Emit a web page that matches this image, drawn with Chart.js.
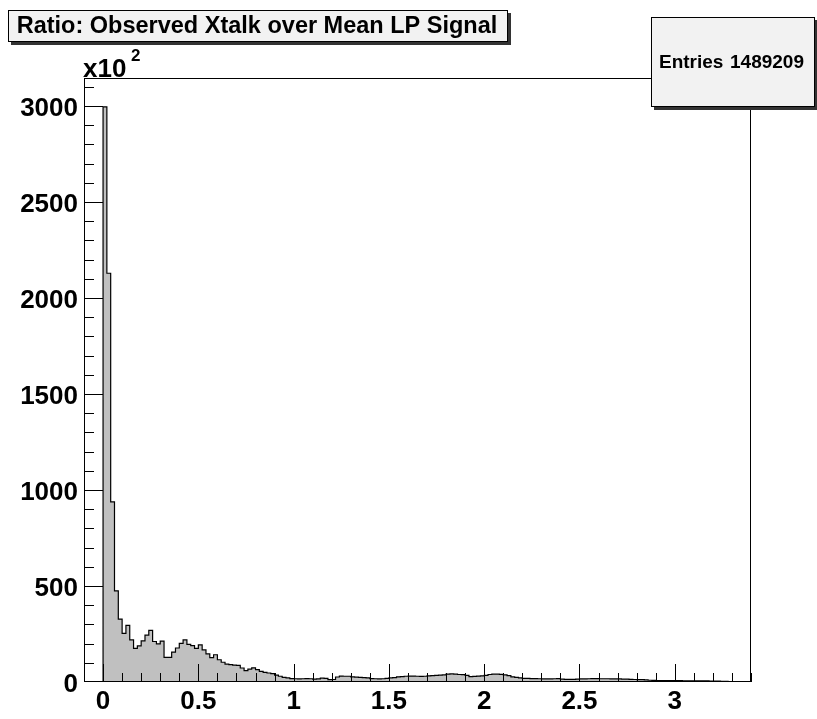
<!DOCTYPE html>
<html>
<head>
<meta charset="utf-8">
<script src="https://cdn.jsdelivr.net/npm/chart.js@4"></script>
<style>
  html, body { margin: 0; padding: 0; background: #fff; }
  #wrap { width: 817px; height: 719px; }
</style>
</head>
<body>
<div id="wrap"><canvas id="myChart" width="817" height="719"></canvas></div>
<script>
const titleText = 'Ratio: Observed Xtalk over Mean LP Signal';
const statsLabel = 'Entries';
const statsValue = '1489209';
const binLow = -0.1;
const binWidth = 0.02;
// bin contents, in units of 10^2 (one value per 0.02 bin, starting at -0.1)
const counts = [
    0, 0, 0, 0, 2,
    2996, 2129, 938, 475, 328, 253, 295, 219, 175, 188,
    214, 244, 269, 211, 199, 213, 128, 128, 156, 177,
    201, 219, 196, 189, 175, 193, 167, 146, 127, 142,
    116, 103, 93, 90, 88, 87, 73, 59, 67, 74,
    64, 55, 50, 47, 44, 36, 30, 24, 21, 18,
    17, 16, 17, 18, 17, 15, 16, 20, 19, 12,
    13, 26, 31, 30, 30, 27, 25, 24, 23, 22,
    18, 17, 16, 17, 19, 21, 23, 27, 28, 30,
    31, 31, 30, 29, 30, 32, 33, 35, 36, 37,
    41, 42, 41, 39, 38, 35, 28, 29, 31, 32,
    35, 39, 41, 41, 40, 37, 33, 27, 24, 21,
    19, 19, 18, 18, 17, 16, 16, 16, 17, 18,
    15, 14, 14, 14, 15, 16, 16, 17, 18, 18,
    17, 17, 17, 16, 16, 16, 15, 15, 14, 13,
    12, 12, 11, 9, 8, 7, 7, 7, 7, 7,
    7, 7, 6, 6, 6, 6, 6, 6, 6, 5,
    5, 5, 4, 3, 2, 1, 1, 0, 0, 0
];
const xTickLabels = ['0', '0.5', '1', '1.5', '2', '2.5', '3'];
const yTickLabels = ['0', '500', '1000', '1500', '2000', '2500', '3000'];
const yMax = 3146;

const FONT = "'Liberation Sans', Arial, Helvetica, sans-serif";
Chart.defaults.font.family = FONT;

// left bin edges, plus the closing upper edge
const points = counts.map((c, i) => ({ x: +(binLow + i * binWidth).toFixed(4), y: c }));
points.push({ x: +(binLow + counts.length * binWidth).toFixed(4), y: 0 });

const rootStyle = {
    id: 'rootStyle',
    afterDatasetsDraw(chart) {
        const ctx = chart.ctx;
        const ca = chart.chartArea;
        const xs = chart.scales.x;
        const ys = chart.scales.y;
        ctx.save();
        ctx.strokeStyle = '#000';
        ctx.lineWidth = 1;
        ctx.beginPath();
        ys.ticks.forEach(t => {
            if (t.value <= 0) return;
            const py = Math.round(ys.getPixelForValue(t.value)) + 0.5;
            const len = t.value % 500 === 0 ? 19 : 10;
            ctx.moveTo(ca.left, py);
            ctx.lineTo(ca.left + len, py);
        });
        xs.ticks.forEach(t => {
            if (t.value <= binLow + 1e-6) return;
            const px = Math.round(xs.getPixelForValue(t.value)) + 0.5;
            const major = Math.abs(t.value * 2 - Math.round(t.value * 2)) < 1e-6;
            const len = major ? 18 : 9;
            ctx.moveTo(px, ca.bottom);
            ctx.lineTo(px, ca.bottom - len);
        });
        ctx.stroke();
        ctx.strokeRect(Math.round(ca.left) + 0.5, Math.round(ca.top) + 0.5,
            Math.round(ca.right - ca.left) - 1, Math.round(ca.bottom - ca.top) - 1);
        ctx.restore();
    },
    afterDraw(chart) {
        const ctx = chart.ctx;
        ctx.save();
        const pave = (x, y, w, h) => {
            ctx.fillStyle = '#333';
            ctx.fillRect(x + 3, y + 3, w, h);
            ctx.fillStyle = '#f2f2f2';
            ctx.fillRect(x, y, w, h);
            ctx.strokeStyle = '#000';
            ctx.lineWidth = 1;
            ctx.strokeRect(x + 0.5, y + 0.5, w - 1, h - 1);
        };
        // title box
        pave(8, 10, 500, 32);
        ctx.fillStyle = '#000';
        ctx.font = 'bold 23.5px ' + FONT;
        ctx.textAlign = 'center';
        ctx.textBaseline = 'middle';
        ctx.fillText(titleText, 257, 27);
        // stats box
        pave(651, 17, 164, 90);
        ctx.fillStyle = '#000';
        ctx.font = 'bold 19px ' + FONT;
        ctx.textAlign = 'left';
        ctx.fillText(statsLabel, 659, 63);
        ctx.textAlign = 'right';
        ctx.fillText(statsValue, 804, 63);
        // axis multiplier
        ctx.textAlign = 'left';
        ctx.textBaseline = 'alphabetic';
        ctx.font = 'bold 26px ' + FONT;
        ctx.fillText('x10', 83, 77);
        ctx.font = 'bold 17px ' + FONT;
        ctx.fillText('2', 131, 61);
        ctx.restore();
    }
};

function renderChart() {
    const ctx = document.getElementById('myChart');
    return new Chart(ctx, {
        type: 'line',
        data: {
            datasets: [{
                data: points,
                stepped: 'before',
                fill: 'origin',
                backgroundColor: '#c0c0c0',
                borderColor: '#000',
                borderWidth: 1.2,
                pointRadius: 0,
                tension: 0
            }]
        },
        options: {
            responsive: false,
            animation: false,
            devicePixelRatio: 1,
            layout: { padding: { top: 78, right: 66, left: 0, bottom: 0 } },
            plugins: {
                legend: { display: false },
                tooltip: { enabled: false }
            },
            scales: {
                x: {
                    type: 'linear',
                    min: binLow,
                    max: 3.4,
                    grid: { display: false, drawTicks: false },
                    border: { display: false },
                    afterFit: (s) => { s.height = 37; },
                    ticks: {
                        stepSize: 0.1,
                        autoSkip: false,
                        maxRotation: 0,
                        includeBounds: false,
                        padding: 4,
                        color: '#000',
                        font: { size: 26, weight: 'bold' },
                        callback: (v) => xTickLabels.find(l => Math.abs(Number(l) - v) < 1e-6) || ''
                    }
                },
                y: {
                    min: 0,
                    max: yMax,
                    grid: { display: false, drawTicks: false },
                    border: { display: false },
                    afterFit: (s) => { s.width = 84; },
                    ticks: {
                        stepSize: 100,
                        autoSkip: false,
                        includeBounds: false,
                        padding: 6,
                        labelOffset: 3,
                        color: '#000',
                        font: { size: 26, weight: 'bold' },
                        callback: (v) => yTickLabels.includes(String(v)) ? String(v) : ''
                    }
                }
            }
        },
        plugins: [rootStyle]
    });
}

renderChart();
</script>
</body>
</html>
